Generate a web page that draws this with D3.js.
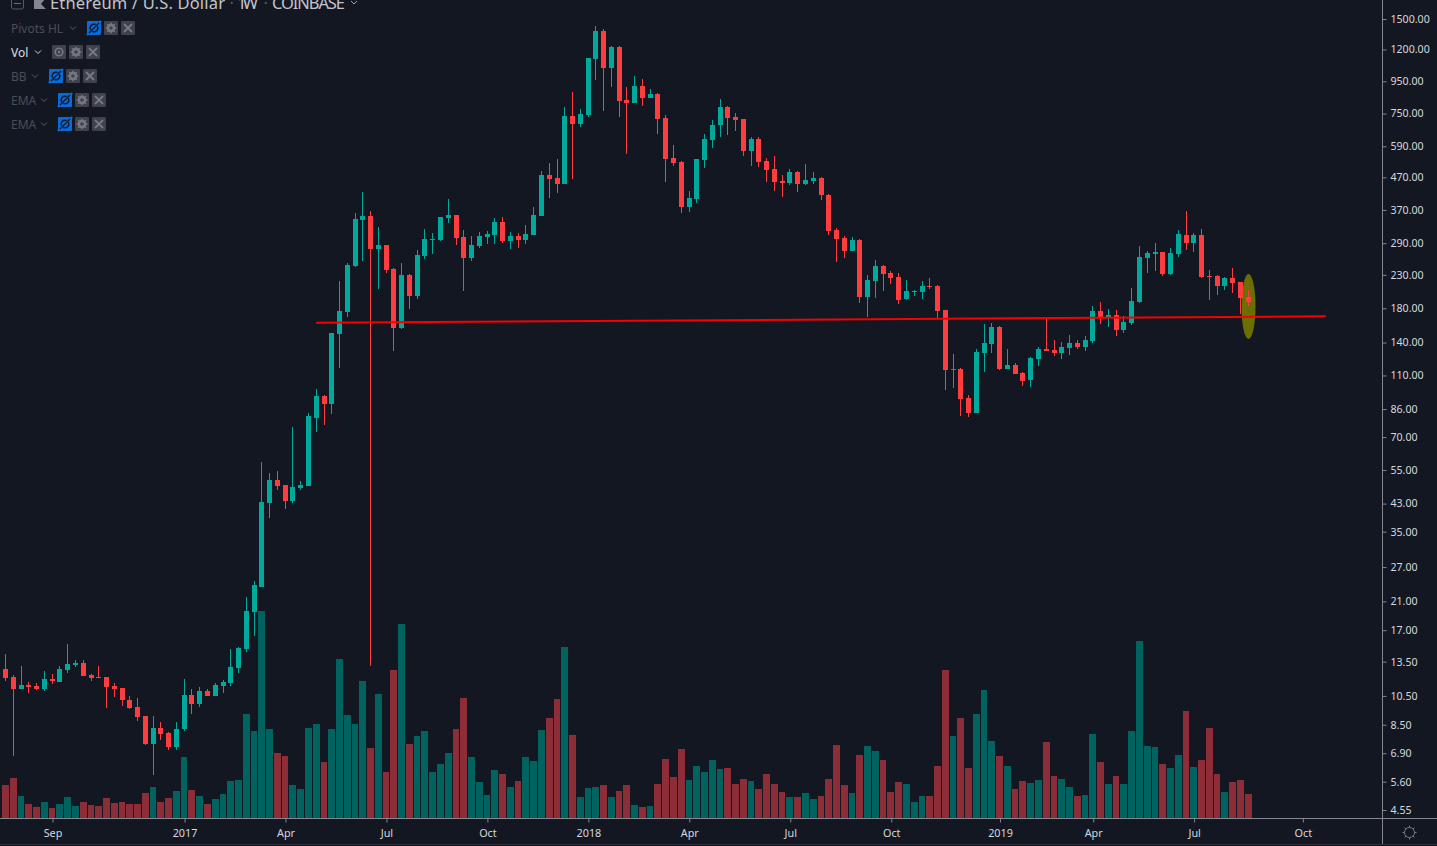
<!DOCTYPE html>
<html>
<head>
<meta charset="utf-8">
<script src="https://cdn.jsdelivr.net/npm/d3@7"></script>
<style>
html,body{margin:0;padding:0;background:#131722;overflow:hidden}
svg{display:block}
text{font-family:"Noto Sans",sans-serif}
</style>
</head>
<body>
<svg id="chart" width="1437" height="846"></svg>
<script>
const opens=[12.79,12.06,11.05,11.37,11.29,11.05,11.89,11.63,12.69,13.17,
13.36,12.24,12.06,12.06,11.29,11.13,10.19,9.68,9.06,7.38,
8.3,8.0,7.22,8.24,10.57,9.89,10.88,10.49,11.29,11.54,
12.88,14.81,19.42,23.33,43.2,51.1,49.3,43.8,48.2,48.9,
80.5,94.6,89.2,149,175,245,344,354,278,286,
240,155.7,229.5,197,264,297,297,349,356.5,303.5,
260,284,303.5,308,339,295,306,297,308,354,
478,468,447.5,737,695,742,1119,1374,1047,1222,
828,810,918,841,866,726,541,526,378,401,
534,618,690,787,731,721,570,622,530,499.5,
457.5,451,489,447.5,457.5,468,413,319.5,301,274,
297,195.5,220,245,233,226,192.6,203,203,212,
212,177.7,114.5,115.3,93.2,83.5,129.7,138.5,156.9,115.3,
118.8,112,106.4,124.1,133.5,132.5,129.7,134.5,139.5,135.5,
141.6,176.4,168.8,171.2,153.5,161.6,188.5,260,268,272,
231.5,268,308,290.5,308,228,228,212,224.5,218,195.5];
const highs=[14.27,12.24,13.07,11.63,11.54,12.6,12.33,13.07,15.36,13.66,
13.66,12.33,13.07,12.06,11.54,11.13,10.49,10.34,9.06,9.06,
8.67,8.06,8.67,11.89,11.05,11.21,11.05,11.54,11.8,14.81,
15.02,21.68,24.38,58.3,53.8,54.6,49.3,75.4,50.75,83.5,
99.6,95.3,150.1,220,251,362,422,367,327,286,
241.5,251,231.5,276,322,312.5,351,401,356.5,319.5,
306,315,317,349,351,315,312.5,331,378,492,
522,537.5,787,878,775.5,1127,1425,1394,1231,1231,
911,988,966,898,872,742,596,530,425,537.5,
646,715,834,793,753,721,632,632,541,549,
478,499.5,492,518,489,471,416,324,306,303.5,
299,229.5,256,247,236.5,233,221.5,206,220,224.5,
213.5,177.7,128.7,116.2,95.3,133.5,160.4,161.6,158,133.5,
120.5,112.8,125.9,135.5,166.4,142.6,140.6,148,142.6,146.9,
183,188.5,179,177.7,170,208.5,284,274,290.5,272,
280,319.5,367,312.5,322,238,229.5,226,241.5,218,206];
const lows=[11.71,6.76,11.05,10.72,10.96,10.88,11.46,11.63,12.42,12.97,
12.15,11.71,11.97,9.61,10.42,9.75,9.54,8.74,7.33,5.88,
7.6,7.06,7.06,8.12,9.2,9.68,10.49,10.49,10.72,11.29,
12.42,14.48,16.28,23.33,38.7,47.5,41.32,43.2,47.5,48.9,
72.7,76.5,82.9,116.2,168.8,243.5,254.5,13.07,207.3,233,
131.6,154.6,179,192.6,258,268,295,336,286,204,
254.5,280,288,288,290.5,278,280,288,308,354,
404,419,447.5,464,680,731,959,764,911,731,
558,810,793,841,646,454,511,362,364.5,389,
503,583,632,641,660,549,511,507,454,425,
407,444,422,444,447.5,398,308,252.5,260,274,
187,168.8,194,204,215,185.7,191,197,192.6,207.3,
166.4,98.9,100.3,81.7,81.1,83.5,112.8,129.7,114.5,115.3,
111.2,101.8,101.1,117.9,131.6,126.8,124.1,127.8,133.5,131.6,
139.5,160.4,156.9,146.9,150.1,159.2,187,233,236.5,228,
229.5,262,276,272,224.5,191,198.5,206,201,172.5,183];
const closes=[11.97,11.05,11.37,11.21,11.05,11.89,11.71,12.79,13.26,13.36,
12.15,11.97,11.97,11.21,11.05,10.19,9.61,9.0,7.38,8.3,
7.94,7.22,8.24,10.57,9.89,10.88,10.49,11.37,11.63,12.97,
14.91,19.56,23.67,43.5,51.1,48.9,43.8,48.6,49.3,81.7,
94.6,89.2,150.1,176.4,247,346,354,278,286,238,
155.7,229.5,197,266,299,299,351,356.5,301,260,
286,306,310,339,295,306,297,310,356.5,478,
464,447.5,737,695,748,1127,1374,1047,1222,822,
810,918,841,866,721,537.5,522,378,404,537.5,
622,690,787,726,715,570,622,526,496,454,
451,489,447.5,461,468,413,317,299,274,297,
195.5,221.5,245,231.5,224.5,191,204,204,212,210,
176.4,114.5,115.3,92.55,83.5,130.6,139.5,156.9,115.3,118.8,
111.2,105.6,125,133.5,131.6,129.7,135.5,139.5,135.5,142.6,
176.4,168.8,171.2,153.5,162.7,190,262,270,272,231.5,
270,310,290.5,308,226,226,212,224.5,216.5,194,188.5];
// relative weekly volume
const volumes=[33,40,22,14,11,16,10,14,21,12,
16,13,12,20,15,16,14,14,25,31,
16,20,27,61,28,22,14,19,24,37,
38,104,87,207,89,65,62,33,29,90,
94,56,89,159,103,94,137,70,124,46,
148,194,74,82,87,46,54,65,89,120,
61,36,23,48,44,31,37,61,57,88,
100,119,171,83,21,30,31,33,21,27,
33,13,11,12,34,59,41,69,38,52,
46,58,49,50,34,39,37,29,44,34,
26,21,21,25,19,22,39,73,33,25,
63,72,67,58,26,36,34,16,22,22,
52,148,82,100,50,104,128,77,62,52,
29,37,35,38,76,42,39,31,22,23,
84,56,34,42,34,87,177,72,71,54,
50,63,107,51,58,90,44,26,36,38,24];

const priceTicks=[1500,1200,950,750,590,470,370,290,230,180,140,110,86,70,55,43,35,27,21,17,13.5,10.5,8.5,6.9,5.6,4.55];
const timeTickBars=[6,23,36,49,62,75,88,101,114,128,140,153,167];
const timeTickLabels=["Sep","2017","Apr","Jul","Oct","2018","Apr","Jul","Oct","2019","Apr","Jul","Oct"];
const supportPrices=[161.8,169.7];
const supportBars=[40,170];
const highlightBar=160, highlightHigh=231.5, highlightLow=143.7;
const legendNames=["Pivots HL","Vol","BB","EMA","EMA"];
const legendHidden=[true,false,true,true,true];
const titleParts=["Ethereum / U.S. Dollar","·","1W","·","COINBASE"];

const C={bg:"#131722",up:"#00a99b",down:"#ff3d3f",upVol:"#00635f",downVol:"#8c2d37",axis:"#85878e",text:"#d6d8dc",dim:"#4b4d58",box:"#3f414c",blue:"#0a6bd6",icon:"#72747e"};

const W=1437,H=846,plotR=1382,plotB=818;
const svg=d3.select("#chart");
const x=d3.scaleLinear().domain([0,160]).range([5.6,1248.2]);
const y=d3.scaleLog().domain([4.55,1500]).range([810,19]);
const v=d3.scaleLinear().domain([0,200]).range([plotB,plotB-200]);
const cx=i=>Math.floor(x(i));
const idx=d3.range(opens.length);

// volume
svg.append("g").selectAll("rect").data(idx).join("rect")
  .attr("x",i=>cx(i)-3)
  .attr("width",i=>i<idx.length-1?cx(i+1)-cx(i)-1:7)
  .attr("y",i=>v(volumes[i]))
  .attr("height",i=>plotB-v(volumes[i]))
  .attr("fill",i=>closes[i]>=opens[i]?C.upVol:C.downVol);

// highlight ellipse
svg.append("ellipse")
  .attr("cx",cx(highlightBar)+0.5)
  .attr("cy",(y(highlightHigh)+y(highlightLow))/2)
  .attr("rx",7).attr("ry",(y(highlightLow)-y(highlightHigh))/2)
  .attr("fill","#6b6e00");

// candles
const candles=svg.append("g");
candles.selectAll("rect.w").data(idx).join("rect").attr("class","w")
  .attr("x",i=>cx(i)).attr("width",1)
  .attr("y",i=>Math.round(y(highs[i])))
  .attr("height",i=>Math.max(1,Math.round(y(lows[i]))-Math.round(y(highs[i]))))
  .attr("fill",i=>closes[i]>=opens[i]?C.up:C.down);
candles.selectAll("rect.b").data(idx).join("rect").attr("class","b")
  .attr("x",i=>cx(i)-2).attr("width",5)
  .attr("y",i=>Math.round(y(Math.max(opens[i],closes[i]))))
  .attr("height",i=>Math.max(1,Math.round(y(Math.min(opens[i],closes[i])))-Math.round(y(Math.max(opens[i],closes[i])))))
  .attr("fill",i=>closes[i]>=opens[i]?C.up:C.down);

// trend line
const lineGen=d3.line().x(d=>x(d[0])).y(d=>y(d[1]));
svg.append("path")
  .attr("d",lineGen([[supportBars[0],supportPrices[0]],[supportBars[1],supportPrices[1]]]))
  .attr("stroke","#f80000").attr("stroke-width",2).attr("fill","none");

// axes frame
svg.append("line").attr("x1",plotR+0.5).attr("x2",plotR+0.5).attr("y1",0).attr("y2",844).attr("stroke",C.axis);
svg.append("line").attr("x1",0).attr("x2",W).attr("y1",plotB+0.5).attr("y2",plotB+0.5).attr("stroke",C.axis);
svg.append("line").attr("x1",0).attr("x2",W).attr("y1",844.5).attr("y2",844.5).attr("stroke","#2a2e39");

const yAxis=d3.axisRight(y).tickValues(priceTicks).tickFormat(d3.format(".2f")).tickSize(4).tickPadding(4);
const gy=svg.append("g").attr("transform",`translate(${plotR+0.5},0)`).call(yAxis);
gy.select(".domain").remove();
gy.selectAll("line").attr("stroke",C.axis);
gy.selectAll("text").attr("fill",C.text).style("font-size","10.6px").style("font-family",'"Noto Sans",sans-serif');

const xAxis=d3.axisBottom(d3.scaleLinear().domain(x.domain()).range(x.range()))
  .tickValues(timeTickBars).tickFormat((d,i)=>timeTickLabels[i]).tickSize(4).tickPadding(7);
const gx=svg.append("g").attr("transform",`translate(0.3,${plotB+0.5})`).call(xAxis);
gx.select(".domain").remove();
gx.selectAll("line").attr("stroke",C.axis);
gx.selectAll("text").attr("fill",C.text).style("font-size","10.8px").style("font-family",'"Noto Sans",sans-serif');

// gear in the corner
function gear(g,cxp,cyp,r,col,sw){
  g.append("circle").attr("cx",cxp).attr("cy",cyp).attr("r",r).attr("fill","none").attr("stroke",col).attr("stroke-width",sw);
  d3.range(8).forEach(k=>{
    const a=k*Math.PI/4;
    g.append("line")
      .attr("x1",cxp+Math.cos(a)*r).attr("y1",cyp+Math.sin(a)*r)
      .attr("x2",cxp+Math.cos(a)*(r+2)).attr("y2",cyp+Math.sin(a)*(r+2))
      .attr("stroke",col).attr("stroke-width",sw);
  });
}
gear(svg.append("g"),1409.5,832.5,5,"#777982",1);

// header
const head=svg.append("g");
head.append("rect").attr("x",11.5).attr("y",-5).attr("width",12).attr("height",14).attr("rx",2).attr("fill","none").attr("stroke","#585a64");
head.append("line").attr("x1",14).attr("x2",21).attr("y1",3.5).attr("y2",3.5).attr("stroke","#6a6c76");
head.append("rect").attr("x",34).attr("y",-2).attr("width",4).attr("height",11).attr("fill","#85878e");
head.append("path").attr("d","M38,-2 L46,-2 L41,4 L46,9 L38,9 Z").attr("fill","#85878e");
const titleX=[50,229.5,237,263.5,272], titleW=[175,0,21,0,73];
titleParts.forEach((s,k)=>{
  const t=head.append("text").attr("x",titleX[k]).attr("y",8.5).style("font-size","16.5px")
    .attr("fill",s==="·"?"#555761":"#c3c5cb").text(s);
  if(titleW[k]) t.attr("textLength",titleW[k]);
});
head.append("path").attr("d","M351,1 L354,4 L357,1").attr("fill","none").attr("stroke","#a0a2a9").attr("stroke-width",1);

// legend rows
legendNames.forEach((name,k)=>{
  const cy=28+24*k, col=legendHidden[k]?C.dim:"#dddee2";
  const g=svg.append("g");
  g.append("text").attr("x",11).attr("y",cy+4.5).attr("fill",col).style("font-size","12px").text(name);
  const ref={"Pivots HL":[87],"Vol":[52],"BB":[49],"EMA":[58]}[name][0];
  const cxv=ref-14;
  g.append("path").attr("d",`M${cxv-3},${cy-1.5} L${cxv},${cy+1.5} L${cxv+3},${cy-1.5}`).attr("fill","none").attr("stroke",legendHidden[k]?"#5a5c67":"#cfd1d6");
  [0,1,2].forEach(n=>{
    const bx=ref+17*n, by=cy-7, mid=bx+7;
    const first=n===0&&legendHidden[k];
    g.append("rect").attr("x",bx).attr("y",by).attr("width",14).attr("height",14).attr("rx",1).attr("fill",first?C.blue:C.box);
    const ic=first?"#10192b":"#767882";
    if(n===0){
      g.append("circle").attr("cx",mid).attr("cy",cy).attr("r",3.8).attr("fill","none").attr("stroke",ic).attr("stroke-width",1.6);
      if(first) g.append("line").attr("x1",bx).attr("y1",by+14).attr("x2",bx+14).attr("y2",by).attr("stroke",C.blue).attr("stroke-width",2.4),
                g.append("line").attr("x1",bx+2).attr("y1",by+12).attr("x2",bx+12).attr("y2",by+2).attr("stroke",ic).attr("stroke-width",1.2);
      else g.append("circle").attr("cx",mid).attr("cy",cy).attr("r",1.2).attr("fill",ic);
    } else if(n===1){
      g.append("circle").attr("cx",mid).attr("cy",cy).attr("r",3).attr("fill","none").attr("stroke",ic).attr("stroke-width",2.4);
      d3.range(8).forEach(a=>{const th=a*Math.PI/4;
        g.append("line").attr("x1",mid+Math.cos(th)*3.5).attr("y1",cy+Math.sin(th)*3.5).attr("x2",mid+Math.cos(th)*5.3).attr("y2",cy+Math.sin(th)*5.3).attr("stroke",ic).attr("stroke-width",1.6);});
    } else {
      g.append("path").attr("d",`M${bx+3},${by+3} L${bx+11},${by+11} M${bx+11},${by+3} L${bx+3},${by+11}`).attr("stroke",ic).attr("stroke-width",1.9).attr("fill","none");
    }
  });
});
</script>
</body>
</html>
